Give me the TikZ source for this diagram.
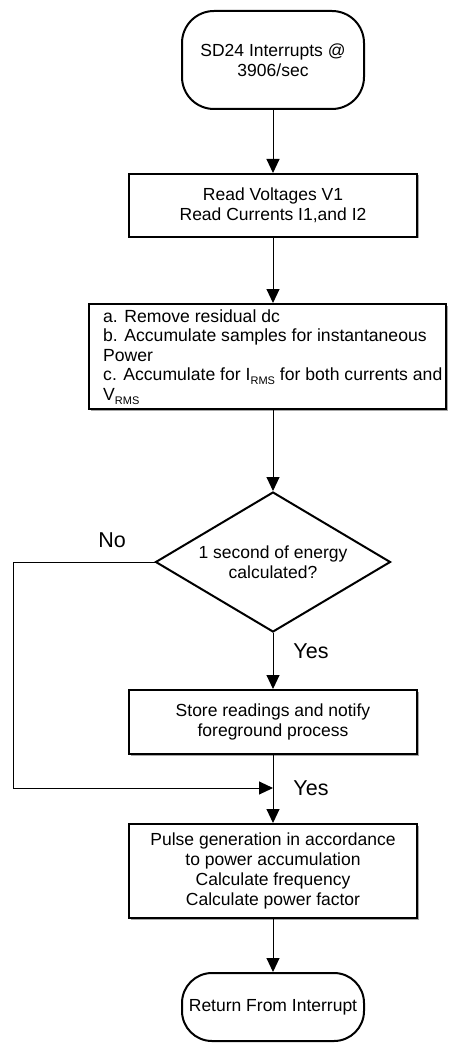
\documentclass[tikz,border=0pt]{standalone}
\usepackage{fontspec}
\setmainfont{Liberation Sans}
\usetikzlibrary{arrows.meta,shapes.geometric,shadows}
\newcommand{\rmssub}{\raisebox{-0.4ex}{\fontsize{11}{11}\selectfont RMS}}
\begin{document}
\begin{tikzpicture}[x=1pt,y=-1pt,
  every node/.style={font=\fontsize{17.5}{20}\selectfont},
  box/.style={draw, line width=2pt, fill=white, minimum width=288pt, align=center, inner sep=0pt,
    drop shadow={shadow xshift=1.5pt, shadow yshift=-1.5pt, fill=black!35, opacity=1}},
  term/.style={draw, line width=2pt, fill=white, align=center, inner sep=0pt},
  dec/.style={draw, diamond, line width=2pt, fill=white, minimum width=235pt, minimum height=140pt,
    aspect=1.68, inner sep=0pt, align=center},
  conn/.style={line width=1pt},
  arr/.style={conn, -{Triangle[length=14pt,width=13pt]}},
  lab/.style={font=\fontsize{21.5}{24}\selectfont, inner sep=0pt}]
\useasboundingbox (0,0) rectangle (449,1048);

\node[term, minimum width=182pt, minimum height=98pt, rounded corners=32pt] (start) at (273,60) {SD24 Interrupts @\\3906/sec};
\node[box, minimum height=63pt] (read) at (273,205.5) {Read Voltages V1\\Read Currents I1,and I2};
\node[box, minimum width=357pt, minimum height=105pt] (proc) at (267.5,356.5) {};
\node[anchor=west, align=left, font=\fontsize{17.6}{19.5}\selectfont, inner sep=0pt] (proctext) at (103,357)
  {a. Remove residual dc\\b. Accumulate samples for instantaneous\\Power\\c. Accumulate for I\rmssub{} for both currents and\\V\rmssub};
\node[dec] (dec) at (273,562) {1 second of energy\\calculated?};
\node[box, minimum height=64pt] (store) at (273,722) {Store readings and notify\\foreground process};
\coordinate (join) at (273,788);
\coordinate (lft) at (13,788);
\node[box, minimum height=94pt] (pulse) at (273,871) {Pulse generation in accordance\\to power accumulation\\Calculate frequency\\Calculate power factor};
\node[term, minimum width=182pt, minimum height=68pt, rounded corners=30pt] (end) at (273,1007) {Return From Interrupt};

\draw[arr] (start.south) -- (read.north);
\draw[arr] (read.south) -- (read.south |- proc.north);
\draw[arr] (read.south |- proc.south) -- (dec.north);
\draw[arr] (dec.south) -- (store.north);
\draw[conn] (store.south) -- (join);
\draw[arr] (join) -- (pulse.north);
\draw[arr] (dec.west) -| (lft) -- (join);
\draw[arr] (pulse.south) -- (end.north);

\node[lab] (no) at (112,540) {No};
\node[lab] (yes1) at (311,651) {Yes};
\node[lab] (yes2) at (311,788) {Yes};
\end{tikzpicture}
\end{document}
